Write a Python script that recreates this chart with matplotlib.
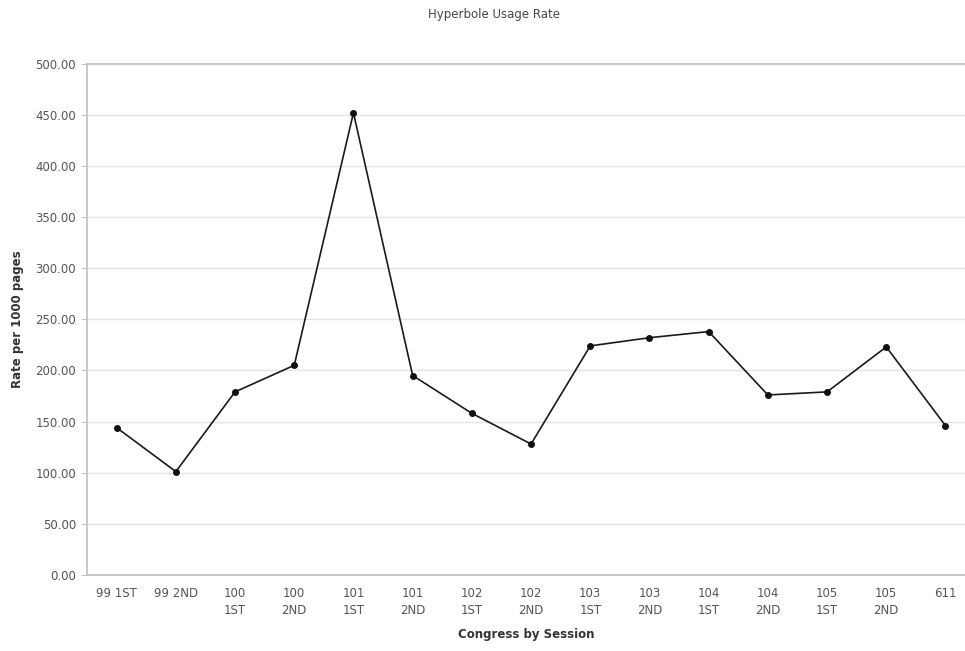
import matplotlib
matplotlib.use("Agg")
import matplotlib.pyplot as plt
from matplotlib.ticker import FormatStrFormatter

# ── Data ───────────────────────────────────────────
sessions = ["99 1ST", "99 2ND", "100\n1ST", "100\n2ND", "101\n1ST", "101\n2ND",
            "102\n1ST", "102\n2ND", "103\n1ST", "103\n2ND", "104\n1ST", "104\n2ND",
            "105\n1ST", "105\n2ND", "611"]
rates = [144, 101, 179, 205, 452, 195, 158, 128, 224, 232, 238, 176, 179, 223, 146]
y_ticks = [0, 50, 100, 150, 200, 250, 300, 350, 400, 450, 500]

# ── Figure ─────────────────────────────────────────
fig = plt.figure(figsize=(9.65, 6.51), dpi=100)
ax = fig.add_axes([0.0902, 0.117, 0.9098, 0.785])

x = list(range(len(sessions)))
ax.plot(x, rates, color="#1a1a1a", linewidth=1.2, marker="o", markersize=4,
        markerfacecolor="#111111", markeredgecolor="#111111")

ax.set_xlim(-0.5, 14.33)
ax.set_ylim(0, 500)
ax.set_yticks(y_ticks)
ax.yaxis.set_major_formatter(FormatStrFormatter("%.2f"))
ax.set_xticks(x)
ax.set_xticklabels(sessions, linespacing=1.4)

ax.grid(axis="y", color="#e4e4e4", linewidth=1.0)
ax.set_axisbelow(True)

for side in ["left", "bottom", "top"]:
    ax.spines[side].set_color("#c4c4c4")
    ax.spines[side].set_linewidth(1.3)
ax.spines["right"].set_visible(False)

ax.tick_params(axis="y", length=4, color="#c4c4c4", labelsize=8.5, labelcolor="#555555", pad=4)
ax.tick_params(axis="x", length=0, labelsize=8.5, labelcolor="#555555", pad=9)

ax.set_xlabel("Congress by Session", fontsize=8.5, fontweight="bold", color="#333333", labelpad=8)
ax.set_ylabel("Rate per 1000 pages", fontsize=8.5, fontweight="bold", color="#333333", labelpad=8)
fig.text(0.512, 0.977, "Hyperbole Usage Rate", ha="center", va="center",
         fontsize=8.5, color="#444444")

fig.savefig("out.png", dpi=100)
